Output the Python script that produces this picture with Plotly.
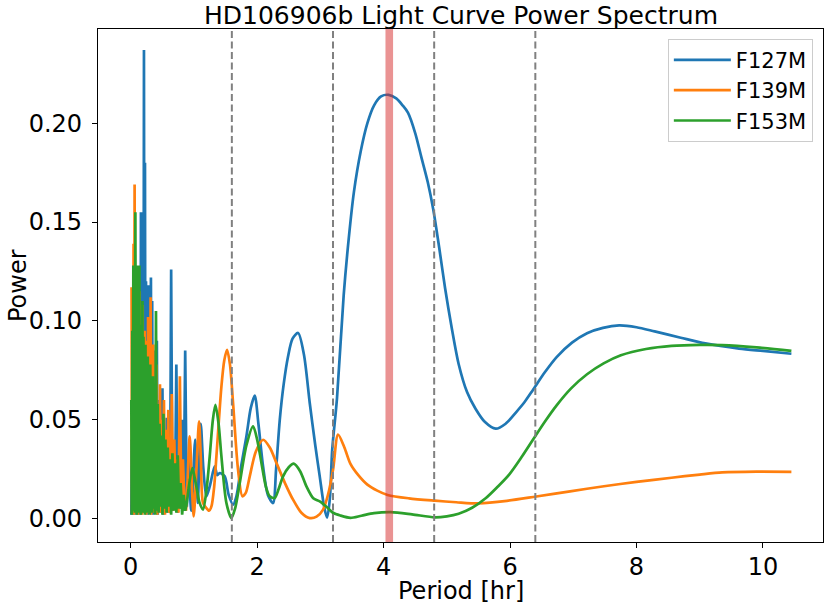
import plotly.graph_objects as go

# ---------------- data ----------------
# dense short-period part (shared by F127M and F153M)
period_short = [0.010, 0.018, 0.026, 0.034, 0.042, 0.050, 0.058, 0.066, 0.074, 0.082,
                0.090, 0.098, 0.106, 0.114, 0.122, 0.130, 0.138, 0.146, 0.154, 0.162,
                0.170, 0.178, 0.186, 0.194, 0.202, 0.210, 0.218, 0.226, 0.234, 0.242,
                0.250, 0.260, 0.270, 0.280, 0.290, 0.300, 0.310, 0.320, 0.330, 0.340,
                0.352, 0.364, 0.376, 0.388, 0.400, 0.414, 0.428, 0.442, 0.456, 0.470,
                0.486, 0.502, 0.518, 0.534, 0.550, 0.568, 0.586, 0.604, 0.622, 0.640,
                0.660, 0.680, 0.700, 0.722, 0.744, 0.766, 0.790, 0.814, 0.838, 0.862,
                0.888, 0.914]

f127m_short = [0.002, 0.040, 0.003, 0.065, 0.002, 0.090, 0.004, 0.075, 0.002, 0.100,
               0.005, 0.085, 0.002, 0.110, 0.004, 0.095, 0.003, 0.120, 0.002, 0.155,
               0.006, 0.155, 0.003, 0.155, 0.004, 0.237, 0.010, 0.180, 0.003, 0.120,
               0.005, 0.110, 0.002, 0.118, 0.004, 0.100, 0.003, 0.122, 0.006, 0.110,
               0.002, 0.085, 0.004, 0.070, 0.003, 0.090, 0.002, 0.060, 0.005, 0.050,
               0.003, 0.066, 0.002, 0.045, 0.004, 0.051, 0.003, 0.040, 0.005, 0.126,
               0.004, 0.035, 0.006, 0.078, 0.003, 0.042, 0.005, 0.050, 0.004, 0.085,
               0.006, 0.030]

f153m_short = [0.060, 0.002, 0.095, 0.010, 0.128, 0.004, 0.112, 0.003, 0.155, 0.008,
               0.128, 0.002, 0.128, 0.005, 0.100, 0.003, 0.128, 0.006, 0.090, 0.002,
               0.098, 0.004, 0.110, 0.003, 0.092, 0.006, 0.080, 0.002, 0.088, 0.005,
               0.075, 0.003, 0.082, 0.006, 0.070, 0.002, 0.078, 0.004, 0.065, 0.003,
               0.072, 0.005, 0.060, 0.002, 0.105, 0.004, 0.058, 0.003, 0.048, 0.006,
               0.042, 0.002, 0.053, 0.005, 0.040, 0.003, 0.036, 0.006, 0.030, 0.002,
               0.033, 0.004, 0.028, 0.003, 0.032, 0.005, 0.018, 0.002, 0.012, 0.004,
               0.008, 0.015]

period_short_f139m = [0.014, 0.022, 0.030, 0.038, 0.046, 0.054, 0.062, 0.070, 0.078, 0.086,
                      0.094, 0.102, 0.110, 0.118, 0.126, 0.134, 0.142, 0.150, 0.158, 0.166,
                      0.174, 0.182, 0.190, 0.198, 0.206, 0.214, 0.222, 0.230, 0.238, 0.246,
                      0.255, 0.265, 0.275, 0.285, 0.295, 0.305, 0.315, 0.325, 0.335, 0.346,
                      0.358, 0.370, 0.382, 0.394, 0.407, 0.421, 0.435, 0.449, 0.463, 0.478,
                      0.494, 0.510, 0.526, 0.542, 0.559, 0.577, 0.595, 0.613, 0.631, 0.650,
                      0.670, 0.690, 0.711, 0.733, 0.755, 0.778, 0.802, 0.826, 0.850, 0.875,
                      0.901]

f139m_short = [0.117, 0.003, 0.105, 0.005, 0.139, 0.002, 0.169, 0.004, 0.124, 0.003,
               0.110, 0.006, 0.120, 0.002, 0.095, 0.004, 0.115, 0.003, 0.100, 0.005,
               0.090, 0.002, 0.108, 0.004, 0.085, 0.003, 0.095, 0.006, 0.080, 0.002,
               0.090, 0.004, 0.102, 0.003, 0.075, 0.005, 0.112, 0.002, 0.070, 0.004,
               0.088, 0.003, 0.065, 0.006, 0.078, 0.002, 0.055, 0.004, 0.068, 0.003,
               0.050, 0.005, 0.060, 0.002, 0.045, 0.004, 0.055, 0.003, 0.004, 0.063,
               0.004, 0.040, 0.006, 0.030, 0.003, 0.072, 0.005, 0.030, 0.008, 0.004,
               0.020]

# smooth long-period part
period_f127m_long = [0.914, 0.960, 1.020, 1.060, 1.108, 1.150, 1.197, 1.250, 1.329, 1.370,
                     1.408, 1.487, 1.550, 1.619, 1.672, 1.750, 1.830, 1.900, 1.962, 2.020,
                     2.094, 2.170, 2.252, 2.300, 2.358, 2.420, 2.489, 2.560, 2.648, 2.740,
                     2.832, 2.920, 2.990, 3.060, 3.106, 3.150, 3.187, 3.263, 3.369, 3.450,
                     3.530, 3.640, 3.744, 3.850, 3.960, 4.080, 4.200, 4.300, 4.385, 4.500,
                     4.598, 4.700, 4.785, 4.880, 4.973, 5.080, 5.187, 5.320, 5.454, 5.600,
                     5.774, 5.930, 6.095, 6.230, 6.362, 6.550, 6.737, 6.980, 7.218, 7.470,
                     7.726, 8.000, 8.287, 8.700, 9.089, 9.623, 10.000, 10.450]
f127m_long = [0.030, 0.004, 0.040, 0.008, 0.048, 0.025, 0.0113, 0.0163, 0.0264, 0.022,
              0.0231, 0.0214, 0.012, 0.0071, 0.0113, 0.027, 0.0416, 0.056, 0.0622, 0.048,
              0.0264, 0.012, 0.0079, 0.025, 0.050, 0.068, 0.082, 0.091, 0.0939, 0.083,
              0.0585, 0.037, 0.0214, 0.006, 0.0005, 0.010, 0.0347, 0.0608, 0.113, 0.142,
              0.165, 0.186, 0.200, 0.209, 0.2135, 0.2143, 0.2125, 0.209, 0.2053, 0.195,
              0.1827, 0.170, 0.1565, 0.137, 0.1165, 0.096, 0.0782, 0.064, 0.0556, 0.049,
              0.0455, 0.048, 0.0538, 0.059, 0.0651, 0.074, 0.0817, 0.089, 0.0938, 0.0965,
              0.0977, 0.0968, 0.0947, 0.0915, 0.0886, 0.0860, 0.0848, 0.0834]

period_f139m_long = [0.901, 0.934, 0.970, 0.997, 1.040, 1.081, 1.110, 1.144, 1.197, 1.240,
                     1.277, 1.320, 1.356, 1.435, 1.480, 1.524, 1.570, 1.619, 1.698, 1.767,
                     1.820, 1.883, 1.980, 2.094, 2.200, 2.305, 2.440, 2.568, 2.700, 2.832,
                     2.940, 3.043, 3.120, 3.201, 3.280, 3.380, 3.476, 3.600, 3.744, 3.900,
                     4.063, 4.400, 4.812, 5.150, 5.508, 5.950, 6.416, 6.950, 7.486, 8.000,
                     8.554, 9.000, 9.356, 9.900, 10.450]
f139m_long = [0.020, 0.0416, 0.015, 0.0012, 0.025, 0.0492, 0.030, 0.0079, 0.0054, 0.004,
              0.0062, 0.016, 0.0315, 0.0669, 0.080, 0.0854, 0.078, 0.0585, 0.0248, 0.0113,
              0.013, 0.0214, 0.034, 0.0399, 0.036, 0.0282, 0.018, 0.0096, 0.003, 0.0003,
              0.001, 0.0046, 0.012, 0.0248, 0.0425, 0.036, 0.0277, 0.022, 0.0172, 0.0142,
              0.0120, 0.0103, 0.0091, 0.0083, 0.0077, 0.0090, 0.0112, 0.0138, 0.0164, 0.0186,
              0.0207, 0.0223, 0.0234, 0.0238, 0.0237]

period_f153m_long = [0.914, 0.976, 1.010, 1.039, 1.090, 1.144, 1.200, 1.250, 1.300, 1.340,
                     1.390, 1.435, 1.514, 1.593, 1.650, 1.725, 1.830, 1.935, 2.000, 2.068,
                     2.140, 2.199, 2.278, 2.340, 2.410, 2.500, 2.579, 2.680, 2.780, 2.888,
                     2.990, 3.101, 3.200, 3.315, 3.476, 3.650, 3.850, 4.117, 4.450, 4.812,
                     5.000, 5.187, 5.400, 5.614, 5.800, 5.989, 6.180, 6.362, 6.550, 6.737,
                     6.970, 7.218, 7.480, 7.753, 8.150, 8.554, 9.000, 9.356, 9.900, 10.450]
f153m_long = [0.015, 0.0256, 0.021, 0.0163, 0.008, 0.0046, 0.015, 0.0315, 0.050, 0.0576,
              0.048, 0.0315, 0.0079, 0.0003, 0.005, 0.018, 0.037, 0.0467, 0.040, 0.0282,
              0.016, 0.0113, 0.0105, 0.015, 0.0214, 0.026, 0.0278, 0.024, 0.0163, 0.0103,
              0.0087, 0.0059, 0.003, 0.0016, 0.0004, 0.0015, 0.0028, 0.0033, 0.0022, 0.0007,
              0.0012, 0.0025, 0.0055, 0.0103, 0.016, 0.0224, 0.031, 0.0399, 0.049, 0.0573,
              0.066, 0.0730, 0.0785, 0.0826, 0.0858, 0.0874, 0.0879, 0.0878, 0.0866, 0.0848]

filters = ["F127M", "F139M", "F153M"]
colors = ["#1f77b4", "#ff7f0e", "#2ca02c"]

dashed_periods = [1.6, 3.2, 4.8, 6.4]
band_period = [4.03, 4.15]

x_ticks = [0, 2, 4, 6, 8, 10]
y_ticks = [0.00, 0.05, 0.10, 0.15, 0.20]

title_text = "HD106906b Light Curve Power Spectrum"
x_label = "Period [hr]"
y_label = "Power"

# ---------------- figure ----------------
short_parts = [(period_short, f127m_short), (period_short_f139m, f139m_short),
               (period_short, f153m_short)]
long_parts = [(period_f127m_long, f127m_long), (period_f139m_long, f139m_long),
              (period_f153m_long, f153m_long)]

fig = go.Figure()
for (xs, ys), (xl, yl), name, col in zip(short_parts, long_parts, filters, colors):
    fig.add_trace(go.Scatter(x=xs, y=ys, mode="lines", name=name, legendgroup=name,
                             showlegend=False, line=dict(color=col, width=2.7)))
    fig.add_trace(go.Scatter(x=xl, y=yl, mode="lines", name=name, legendgroup=name,
                             showlegend=True,
                             line=dict(color=col, width=2.7, shape="spline", smoothing=0.8)))

for p in dashed_periods:
    fig.add_shape(type="line", xref="x", yref="paper", x0=p, x1=p, y0=0, y1=1,
                  line=dict(color="gray", width=2, dash="7px,3.5px"), layer="above")

fig.add_shape(type="rect", xref="x", yref="paper", x0=band_period[0], x1=band_period[1],
              y0=0, y1=1, fillcolor="rgba(214,39,40,0.5)", line=dict(width=0),
              layer="above")

font_family = "DejaVu Sans"
fig.update_layout(
    width=830, height=609,
    margin=dict(l=98.3, r=6.7, t=29.3, b=66.7, autoexpand=False),
    paper_bgcolor="white", plot_bgcolor="white",
    font=dict(family=font_family, color="black", size=24),
    showlegend=True,
    legend=dict(x=0.986, y=0.981, xanchor="right", yanchor="top",
                bgcolor="rgba(255,255,255,0.8)", bordercolor="#cccccc", borderwidth=1,
                tracegroupgap=0, itemwidth=57,
                font=dict(size=21, family=font_family)),
    annotations=[
        dict(text=title_text, xref="paper", yref="paper", x=0.5, y=1, xanchor="center",
             yanchor="bottom", yshift=-3, showarrow=False,
             font=dict(size=25, family=font_family)),
        dict(text=x_label, xref="paper", yref="paper", x=0.5, y=0, xanchor="center",
             yanchor="middle", yshift=-49, showarrow=False,
             font=dict(size=24, family=font_family)),
        dict(text=y_label, xref="paper", yref="paper", x=0, y=0.5, xanchor="center",
             yanchor="middle", xshift=-80.5, textangle=-90, showarrow=False,
             font=dict(size=24, family=font_family)),
    ],
)
fig.update_xaxes(range=[-0.517, 10.95], tickvals=x_ticks, ticks="outside", ticklen=5,
                 tickwidth=1, tickcolor="black", showline=True, linecolor="black",
                 linewidth=1.2, mirror=True, showgrid=False, zeroline=False,
                 automargin=False, ticklabelstandoff=-2, tickfont=dict(size=24))
fig.update_yaxes(range=[-0.0118, 0.2476], tickvals=y_ticks, tickformat=".2f",
                 ticks="outside", ticklen=5, tickwidth=1, tickcolor="black",
                 showline=True, linecolor="black", linewidth=1.2, mirror=True,
                 showgrid=False, zeroline=False, automargin=False,
                 ticklabelstandoff=5, tickfont=dict(size=24))

fig.write_html("out.html", config={"displayModeBar": False},
               post_script="document.body.style.margin='0px';")
